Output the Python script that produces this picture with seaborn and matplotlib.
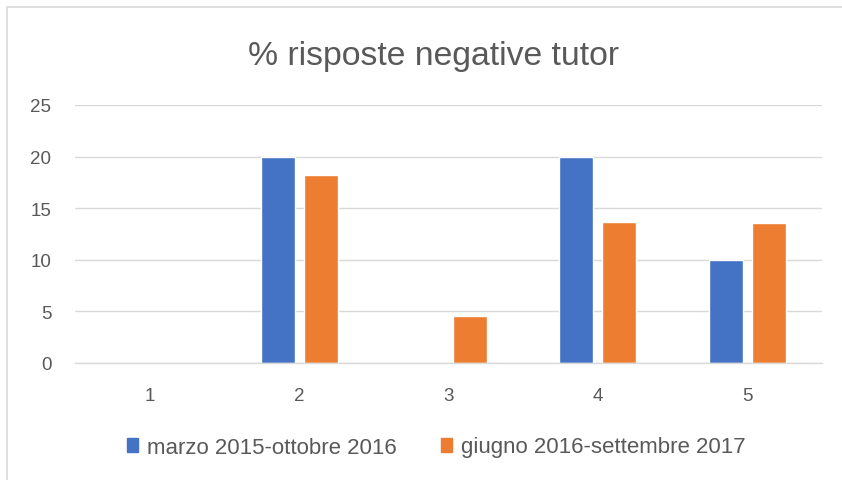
import matplotlib
matplotlib.use("Agg")
import matplotlib.pyplot as plt
import matplotlib.patches as mpatches
import seaborn as sns
import pandas as pd

categories = ["1", "2", "3", "4", "5"]
series_names = ["marzo 2015-ottobre 2016", "giugno 2016-settembre 2017"]
values_marzo = [0, 20, 0, 20, 10]
values_giugno = [0, 18.2, 4.6, 13.7, 13.6]
y_ticks = [0, 5, 10, 15, 20, 25]
title = "% risposte negative tutor"

colors = ["#4472C4", "#ED7D31"]
text_color = "#595959"
grid_color = "#D9D9D9"

df = pd.DataFrame({
    "cat": categories * 2,
    "serie": [series_names[0]] * len(categories) + [series_names[1]] * len(categories),
    "val": values_marzo + values_giugno,
})

sns.set_theme(style="white")
plt.rcParams["font.family"] = ["Liberation Sans", "DejaVu Sans"]

fig = plt.figure(figsize=(8.42, 4.81), dpi=100)
ax = fig.add_axes([75 / 842, 1 - 364 / 481, (822 - 75) / 842, (364 - 106) / 481])

sns.barplot(data=df, x="cat", y="val", hue="serie", order=categories,
            hue_order=series_names, palette=colors, width=0.576, gap=0.208,
            saturation=1, ax=ax, legend=False, errorbar=None)

ax.set_ylim(0, 25)
ax.set_yticks(y_ticks)
ax.set_yticklabels([str(t) for t in y_ticks])
ax.set_xlabel("")
ax.set_ylabel("")
ax.yaxis.grid(True, color=grid_color, linewidth=1)
ax.set_axisbelow(True)
for s in ["left", "right", "top"]:
    ax.spines[s].set_visible(False)
ax.spines["bottom"].set_color(grid_color)
ax.spines["bottom"].set_linewidth(1)
ax.tick_params(axis="both", length=0, labelsize=13.5, labelcolor=text_color)
ax.tick_params(axis="y", pad=17)
ax.tick_params(axis="x", pad=17)

fig.text(433 / 842, 1 - 57 / 481, title, ha="center", va="center",
         fontsize=24.3, color=text_color)

handles = [mpatches.Patch(color=c, label=n) for c, n in zip(colors, series_names)]
fig.legend(handles=handles, loc="center", bbox_to_anchor=(436 / 842, 1 - 448 / 481),
           ncol=2, frameon=False, fontsize=16, labelcolor=text_color,
           handlelength=0.5, handleheight=0.6, handletextpad=0.4, columnspacing=2.0)

border = mpatches.Rectangle((7 / 842, -0.05), 1.2, 1 - 8 / 481 + 0.05,
                            transform=fig.transFigure, fill=False,
                            edgecolor=grid_color, linewidth=1.2)
fig.patches.append(border)

fig.savefig("out.png", dpi=100)
